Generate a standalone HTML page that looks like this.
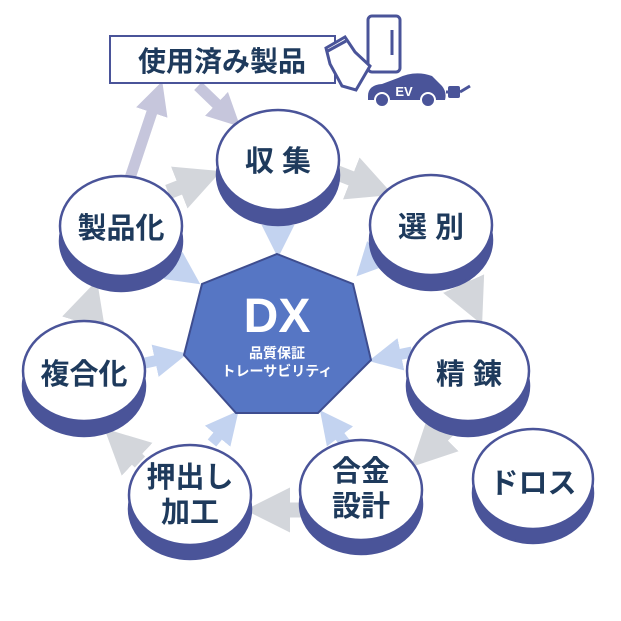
<!DOCTYPE html>
<html><head><meta charset="utf-8"><style>
html,body{margin:0;padding:0;background:#fff;}
svg{display:block;}
text{font-family:"Liberation Sans","Noto Sans CJK JP",sans-serif;font-weight:bold;}
</style></head><body>
<svg width="621" height="621" viewBox="0 0 621 621" xmlns="http://www.w3.org/2000/svg">
<defs>
<marker id="g" markerWidth="3" markerHeight="3" refX="1.2" refY="1.5" orient="auto" markerUnits="strokeWidth"><path d="M0,0 L3,1.5 L0,3 Z" fill="#d3d6db"/></marker>
<marker id="b" markerWidth="3" markerHeight="3" refX="1.2" refY="1.5" orient="auto" markerUnits="strokeWidth"><path d="M0,0 L3,1.5 L0,3 Z" fill="#c3d3f0"/></marker>
<marker id="l" markerWidth="3" markerHeight="3" refX="1.2" refY="1.5" orient="auto" markerUnits="strokeWidth"><path d="M0,0 L3,1.5 L0,3 Z" fill="#c6c6dc"/></marker>
</defs>
<g stroke="#c6c6dc" stroke-width="11" fill="none">
<line x1="130" y1="178" x2="156" y2="100" marker-end="url(#l)"/>
<line x1="198" y1="86" x2="226" y2="113" marker-end="url(#l)"/>
</g>
<g stroke="#d3d6db" stroke-width="15" fill="none">
<line x1="335" y1="172" x2="368" y2="185" marker-end="url(#g)"/>
<line x1="462" y1="280" x2="471" y2="300" marker-end="url(#g)"/>
<line x1="448" y1="430" x2="430" y2="448" marker-end="url(#g)"/>
<line x1="302" y1="510" x2="272" y2="510" marker-end="url(#g)"/>
<line x1="140" y1="462" x2="124" y2="447" marker-end="url(#g)"/>
<line x1="84" y1="322" x2="89" y2="306" marker-end="url(#g)"/>
<line x1="168" y1="192" x2="196" y2="181" marker-end="url(#g)"/>
</g>
<g stroke="#c3d3f0" stroke-width="11" fill="none">
<line x1="278" y1="212" x2="278" y2="238" marker-end="url(#b)"/>
<line x1="388" y1="243" x2="370" y2="262" marker-end="url(#b)"/>
<line x1="412" y1="352" x2="388" y2="357" marker-end="url(#b)"/>
<line x1="345" y1="443" x2="332" y2="426" marker-end="url(#b)"/>
<line x1="212" y1="443" x2="226" y2="426" marker-end="url(#b)"/>
<line x1="145" y1="363" x2="168" y2="358" marker-end="url(#b)"/>
<line x1="168" y1="262" x2="184" y2="273" marker-end="url(#b)"/>
</g>
<polygon points="277,254 353,284 371,360 318,413 236,413 184,355 202,284" fill="#5676c4" stroke="#3e4d8f" stroke-width="2"/>
<text x="277" y="332" font-size="48" fill="#fff" text-anchor="middle">DX</text>
<text x="277" y="358" font-size="14" fill="#fff" text-anchor="middle">品質保証</text>
<text x="277" y="376" font-size="14" fill="#fff" text-anchor="middle">トレーサビリティ</text>
<g stroke="#4a5499" stroke-width="2.5">
<g transform="translate(278,160)"><ellipse cx="0" cy="15" rx="61" ry="50" fill="#4a5499"/><rect x="-61" y="0" width="122" height="15" fill="#4a5499" stroke="none"/><ellipse rx="61" ry="50" fill="#fff"/></g>
<g transform="translate(431,225)"><ellipse cx="0" cy="15" rx="61" ry="50" fill="#4a5499"/><rect x="-61" y="0" width="122" height="15" fill="#4a5499" stroke="none"/><ellipse rx="61" ry="50" fill="#fff"/></g>
<g transform="translate(468,371)"><ellipse cx="0" cy="15" rx="61" ry="50" fill="#4a5499"/><rect x="-61" y="0" width="122" height="15" fill="#4a5499" stroke="none"/><ellipse rx="61" ry="50" fill="#fff"/></g>
<g transform="translate(533,479)"><ellipse cx="0" cy="14" rx="60" ry="50" fill="#4a5499"/><rect x="-60" y="0" width="120" height="14" fill="#4a5499" stroke="none"/><ellipse rx="60" ry="50" fill="#fff"/></g>
<g transform="translate(361,490)"><ellipse cx="0" cy="14" rx="61" ry="50" fill="#4a5499"/><rect x="-61" y="0" width="122" height="14" fill="#4a5499" stroke="none"/><ellipse rx="61" ry="50" fill="#fff"/></g>
<g transform="translate(190,495)"><ellipse cx="0" cy="14" rx="61" ry="50" fill="#4a5499"/><rect x="-61" y="0" width="122" height="14" fill="#4a5499" stroke="none"/><ellipse rx="61" ry="50" fill="#fff"/></g>
<g transform="translate(84,371)"><ellipse cx="0" cy="15" rx="61" ry="50" fill="#4a5499"/><rect x="-61" y="0" width="122" height="15" fill="#4a5499" stroke="none"/><ellipse rx="61" ry="50" fill="#fff"/></g>
<g transform="translate(121,226)"><ellipse cx="0" cy="15" rx="61" ry="50" fill="#4a5499"/><rect x="-61" y="0" width="122" height="15" fill="#4a5499" stroke="none"/><ellipse rx="61" ry="50" fill="#fff"/></g>
</g>
<g fill="#1e3a5c" font-size="29" text-anchor="middle">
<text x="278" y="171">収 集</text>
<text x="431" y="237">選 別</text>
<text x="469" y="384">精 錬</text>
<text x="533" y="493">ドロス</text>
<text x="361" y="481">合金</text>
<text x="361" y="516">設計</text>
<text x="190" y="487">押出し</text>
<text x="190" y="522">加工</text>
<text x="84" y="384">複合化</text>
<text x="121" y="238">製品化</text>
</g>
<rect x="110" y="36" width="225" height="47" fill="#fff" stroke="#4a5499" stroke-width="2"/>
<text x="222" y="71" font-size="28" fill="#1e3a5c" text-anchor="middle">使用済み製品</text>
<g stroke="#4a5499" stroke-width="3" fill="#fff">
<rect x="368" y="16" width="32" height="56" rx="4"/>
<line x1="392" y1="30" x2="392" y2="55"/>
<path d="M326,48 L345,37 L355,52 L370,66 L356,90 L342,86 L330,64 Z"/>
<line x1="326" y1="52" x2="346" y2="41"/>
</g>
<path d="M368,96 Q368,85 382,84 L398,78 Q415,70 432,76 L442,86 Q447,92 445,100 L368,100 Z" fill="#4a5499"/>
<circle cx="382" cy="100" r="7" fill="#4a5499" stroke="#fff" stroke-width="2"/>
<circle cx="428" cy="100" r="7" fill="#4a5499" stroke="#fff" stroke-width="2"/>
<text x="404" y="96" font-size="13" fill="#fff" text-anchor="middle">EV</text>
<path d="M446,92 L460,92 M460,92 L470,86" stroke="#4a5499" stroke-width="3" fill="none"/>
<rect x="448" y="86" width="12" height="12" rx="2" fill="#4a5499"/>
</svg>
</body></html>
